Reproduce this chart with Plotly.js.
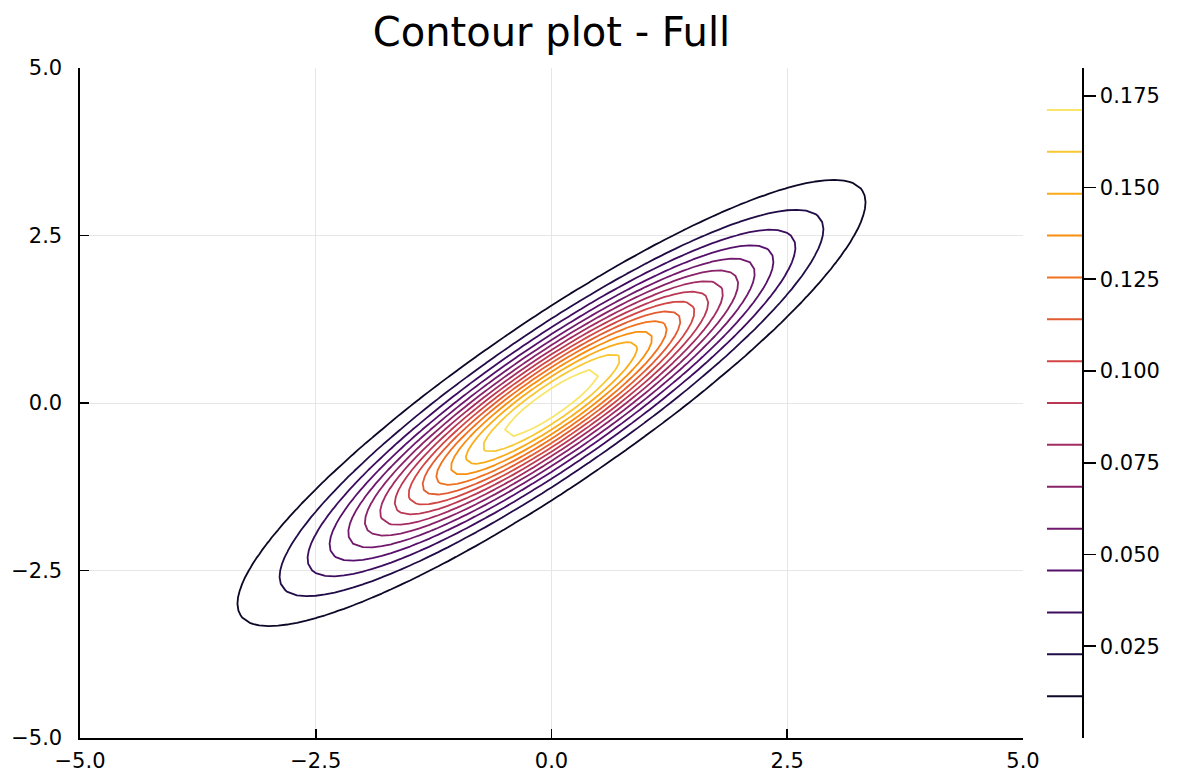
<!DOCTYPE html>
<html>
<head>
<meta charset="utf-8">
<script src="https://cdn.plot.ly/plotly-3.0.1.min.js"></script>
<style>
  html, body { margin: 0; padding: 0; background: #ffffff; }
  #chart { width: 1178px; height: 775px; }
</style>
</head>
<body>
<div id="chart"></div>
<script>
// Bivariate normal density: mean and covariance
const mu = [0.0, 0.0];
const sigma = [[2.0, 1.8], [1.8, 2.0]];

// Evaluation grid
const gridMin = -5;
const gridMax = 5;
const gridCount = 101;

// Number of contour levels
const levelCount = 15;

// Axis ticks
const axisTicks = [-5, -2.5, 0, 2.5, 5];
const axisTickText = ['\u22125.0', '\u22122.5', '0.0', '2.5', '5.0'];
const cbarTicks = [0.025, 0.05, 0.075, 0.1, 0.125, 0.15, 0.175];
const cbarTickText = ['0.025', '0.050', '0.075', '0.100', '0.125', '0.150', '0.175'];

// Inferno colour map
const inferno = [
  '#000004', '#1B0C42', '#4B0C6B', '#781C6D', '#A52C60',
  '#CF4446', '#ED6925', '#FB9A06', '#F7D03C', '#FCFFA4'
];

// ---- build the density surface ----
const xs = [];
for (let i = 0; i < gridCount; i++) xs.push(gridMin + (gridMax - gridMin) * i / (gridCount - 1));
const ys = xs.slice();

const det = sigma[0][0] * sigma[1][1] - sigma[0][1] * sigma[1][0];
const inv = [[sigma[1][1] / det, -sigma[0][1] / det], [-sigma[1][0] / det, sigma[0][0] / det]];
const norm = 1 / (2 * Math.PI * Math.sqrt(det));

const z = ys.map(y => xs.map(x => {
  const dx = x - mu[0], dy = y - mu[1];
  const q = dx * (inv[0][0] * dx + inv[0][1] * dy) + dy * (inv[1][0] * dx + inv[1][1] * dy);
  return norm * Math.exp(-0.5 * q);
}));

let zmin = Infinity, zmax = -Infinity;
z.forEach(row => row.forEach(v => { if (v < zmin) zmin = v; if (v > zmax) zmax = v; }));
const step = (zmax - zmin) / (levelCount + 1);
const levels = [];
for (let k = 1; k <= levelCount; k++) levels.push(zmin + step * k);

// linear interpolation in the colour map
function hexToRgb(h) {
  return [parseInt(h.slice(1, 3), 16), parseInt(h.slice(3, 5), 16), parseInt(h.slice(5, 7), 16)];
}
function colorAt(t) {
  const n = inferno.length - 1;
  const p = Math.min(Math.max(t, 0), 1) * n;
  const i = Math.min(Math.floor(p), n - 1);
  const f = p - i;
  const a = hexToRgb(inferno[i]), b = hexToRgb(inferno[i + 1]);
  const c = a.map((v, j) => Math.round(v + (b[j] - v) * f));
  return 'rgb(' + c.join(',') + ')';
}

// colour of each level, taken from the map over the full z range
const levelColors = levels.map(lv => colorAt((lv - zmin) / (zmax - zmin)));
// contour lines map first..last level onto 0..1 of the scale
const lineScale = levelColors.map((c, i) => [i / (levelColors.length - 1), c]);

const FONT = 'DejaVu Sans, Verdana, sans-serif';

const traces = [{
  type: 'contour',
  x: xs,
  y: ys,
  z: z,
  colorscale: lineScale,
  autocontour: false,
  contours: { coloring: 'lines', start: levels[0], end: levels[levels.length - 1], size: step, showlabels: false },
  line: { width: 1.8, smoothing: 0 },
  showscale: false,
  hoverinfo: 'skip',
  xaxis: 'x',
  yaxis: 'y'
}];

// colour bar: one short line per contour level
levels.forEach((lv, i) => {
  traces.push({
    type: 'scatter',
    mode: 'lines',
    x: [0, 1],
    y: [lv, lv],
    line: { color: levelColors[i], width: 2 },
    showlegend: false,
    hoverinfo: 'skip',
    xaxis: 'x2',
    yaxis: 'y2'
  });
});

const axisCommon = {
  range: [gridMin, gridMax],
  tickmode: 'array',
  tickvals: axisTicks,
  ticktext: axisTickText,
  showline: true,
  linecolor: '#000000',
  linewidth: 1.6,
  mirror: false,
  ticks: 'inside',
  ticklen: 9,
  tickwidth: 1.6,
  tickcolor: '#000000',
  showgrid: true,
  gridcolor: '#e6e6e6',
  gridwidth: 1,
  zeroline: false,
  tickfont: { family: FONT, size: 21, color: '#000000' },
  fixedrange: true
};

const layout = {
  width: 1178,
  height: 775,
  margin: { l: 80, r: 55, t: 68, b: 37 },
  paper_bgcolor: '#ffffff',
  plot_bgcolor: '#ffffff',
  showlegend: false,
  title: {
    text: 'Contour plot - Full',
    font: { family: FONT, size: 40, color: '#000000' },
    x: (551.5) / 1178,
    xanchor: 'center',
    xref: 'container',
    y: 1 - 32 / 775,
    yanchor: 'middle',
    yref: 'container'
  },
  xaxis: Object.assign({}, axisCommon, {
    domain: [0, 943 / 1043],
    anchor: 'y',
    ticklabelstandoff: 3
  }),
  yaxis: Object.assign({}, axisCommon, {
    domain: [0, 1],
    anchor: 'x',
    ticklabelstandoff: 12
  }),
  xaxis2: {
    domain: [967 / 1043, 1002 / 1043],
    range: [0, 1],
    anchor: 'y2',
    visible: false,
    fixedrange: true
  },
  yaxis2: {
    domain: [0, 1],
    anchor: 'x2',
    side: 'right',
    range: [zmin, zmax],
    tickmode: 'array',
    tickvals: cbarTicks,
    ticktext: cbarTickText,
    showline: true,
    linecolor: '#000000',
    linewidth: 1.6,
    ticks: 'outside',
    ticklen: 12,
    tickwidth: 1.6,
    tickcolor: '#000000',
    showgrid: false,
    zeroline: false,
    tickfont: { family: FONT, size: 21, color: '#000000' },
    fixedrange: true
  }
};

Plotly.newPlot('chart', traces, layout, { staticPlot: true, displayModeBar: false });
</script>
</body>
</html>
